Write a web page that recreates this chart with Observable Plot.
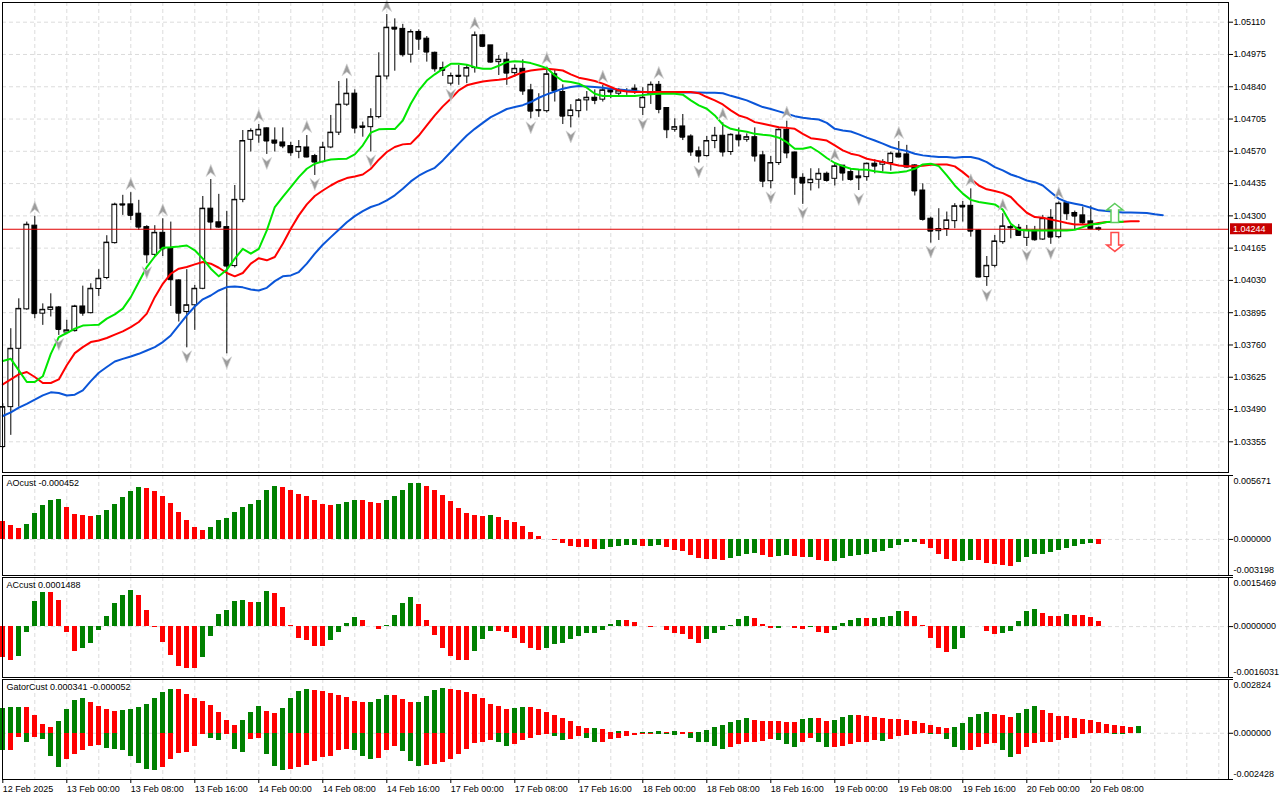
<!DOCTYPE html>
<html><head><meta charset="utf-8">
<script src="https://cdn.jsdelivr.net/npm/d3@7"></script>
<script src="https://cdn.jsdelivr.net/npm/@observablehq/plot@0.6"></script>
<style>
body{margin:0;background:#fff;}
#wrap{position:relative;width:1280px;height:800px;overflow:hidden;background:#fff;}
#wrap svg{position:absolute;left:0;overflow:visible;}
</style></head><body><div id="wrap"></div>
<script>
// ---------- DATA (H1 bars, index 0 = 12 Feb 2025 16:00) ----------
const opens = [1.03333,1.03500,1.03744,1.03909,1.04259,1.03891,1.03907,1.03917,1.03812,1.03818,
1.03921,1.03893,1.03994,1.04040,1.04186,1.04348,1.04348,1.04309,1.04253,1.04137,
1.04229,1.04162,1.04030,1.03898,1.03926,1.03995,1.04330,1.04273,1.04253,1.04090,
1.04367,1.04618,1.04636,1.04666,1.04615,1.04607,1.04592,1.04568,1.04586,1.04550,
1.04525,1.04586,1.04648,1.04765,1.04811,1.04674,1.04671,1.04713,1.04883,1.05087,
1.05082,1.04974,1.05069,1.05041,1.04982,1.04918,1.04853,1.04886,1.04883,1.04918,
1.05055,1.05013,1.04943,1.04953,1.04897,1.04915,1.04825,1.04742,1.04738,1.04892,
1.04818,1.04717,1.04738,1.04783,1.04794,1.04786,1.04825,1.04811,1.04822,1.04832,
1.04752,1.04808,1.04848,1.04751,1.04660,1.04674,1.04632,1.04570,1.04550,1.04613,
1.04635,1.04567,1.04636,1.04618,1.04629,1.04553,1.04445,1.04521,1.04660,1.04565,
1.04459,1.04437,1.04451,1.04476,1.04455,1.04510,1.04483,1.04465,1.04462,1.04518,
1.04514,1.04521,1.04560,1.04557,1.04511,1.04406,1.04288,1.04236,1.04245,1.04278,
1.04342,1.04342,1.04239,1.04044,1.04091,1.04190,1.04253,1.04250,1.04208,1.04239,
1.04201,1.04292,1.04211,1.04353,1.04312,1.04302,1.04277,1.04248];
const highs = [1.03514,1.03828,1.03953,1.04274,1.04298,1.03932,1.03974,1.03921,1.03863,1.03926,
1.04006,1.04016,1.04075,1.04217,1.04353,1.04386,1.04397,1.04365,1.04259,1.04259,
1.04288,1.04274,1.04033,1.04075,1.04009,1.04381,1.04452,1.04390,1.04319,1.04427,
1.04657,1.04664,1.04682,1.04668,1.04668,1.04668,1.04608,1.04615,1.04636,1.04557,
1.04608,1.04720,1.04862,1.04873,1.04827,1.04692,1.04748,1.04982,1.05142,1.05124,
1.05101,1.05078,1.05078,1.05050,1.04985,1.04943,1.04897,1.04929,1.04929,1.05069,
1.05057,1.05013,1.04971,1.04982,1.04932,1.04953,1.04850,1.04811,1.04922,1.04908,
1.04848,1.04765,1.04790,1.04820,1.04827,1.04846,1.04827,1.04832,1.04832,1.04848,
1.04836,1.04860,1.04862,1.04752,1.04706,1.04724,1.04639,1.04588,1.04632,1.04670,
1.04689,1.04643,1.04668,1.04643,1.04668,1.04570,1.04549,1.04664,1.04696,1.04567,
1.04476,1.04497,1.04497,1.04483,1.04518,1.04510,1.04497,1.04493,1.04521,1.04535,
1.04535,1.04567,1.04611,1.04595,1.04514,1.04434,1.04295,1.04330,1.04316,1.04351,
1.04360,1.04413,1.04242,1.04130,1.04218,1.04309,1.04260,1.04264,1.04260,1.04256,
1.04302,1.04326,1.04358,1.04353,1.04320,1.04337,1.04341,1.04253];
const lows = [1.03326,1.03382,1.03500,1.03905,1.03870,1.03842,1.03877,1.03800,1.03810,1.03814,
1.03880,1.03890,1.03963,1.04033,1.04182,1.04302,1.04281,1.04239,1.04100,1.04128,
1.04130,1.03921,1.03856,1.03748,1.03821,1.03991,1.04239,1.04248,1.03723,1.04082,
1.04355,1.04567,1.04604,1.04557,1.04567,1.04581,1.04549,1.04539,1.04543,1.04469,
1.04521,1.04581,1.04636,1.04758,1.04643,1.04629,1.04567,1.04706,1.04869,1.04905,
1.04964,1.04939,1.04992,1.04943,1.04901,1.04883,1.04843,1.04846,1.04853,1.04897,
1.05006,1.04939,1.04887,1.04846,1.04880,1.04804,1.04706,1.04712,1.04730,1.04776,
1.04682,1.04668,1.04710,1.04738,1.04765,1.04776,1.04790,1.04797,1.04804,1.04808,
1.04720,1.04766,1.04727,1.04623,1.04650,1.04615,1.04549,1.04521,1.04546,1.04581,
1.04546,1.04553,1.04588,1.04608,1.04525,1.04418,1.04413,1.04511,1.04539,1.04386,
1.04348,1.04404,1.04413,1.04441,1.04425,1.04445,1.04445,1.04406,1.04445,1.04476,
1.04483,1.04487,1.04543,1.04501,1.04383,1.04278,1.04186,1.04197,1.04214,1.04246,
1.04274,1.04211,1.04041,1.04005,1.04082,1.04181,1.04204,1.04215,1.04172,1.04194,
1.04197,1.04181,1.04204,1.04281,1.04239,1.04264,1.04242,1.04236];
const closes = [1.03500,1.03744,1.03911,1.04263,1.03891,1.03907,1.03917,1.03825,1.03821,1.03921,
1.03893,1.03995,1.04037,1.04188,1.04347,1.04345,1.04302,1.04253,1.04137,1.04229,
1.04162,1.04033,1.03893,1.03926,1.03995,1.04330,1.04274,1.04253,1.04090,1.04367,
1.04613,1.04655,1.04660,1.04613,1.04604,1.04592,1.04564,1.04588,1.04546,1.04525,
1.04586,1.04648,1.04765,1.04811,1.04667,1.04670,1.04713,1.04883,1.05087,1.05081,
1.04974,1.05069,1.05039,1.04985,1.04915,1.04908,1.04885,1.04883,1.04918,1.05055,
1.05009,1.04943,1.04953,1.04897,1.04915,1.04822,1.04738,1.04740,1.04892,1.04822,
1.04717,1.04741,1.04783,1.04794,1.04783,1.04825,1.04818,1.04822,1.04821,1.04825,
1.04794,1.04848,1.04745,1.04660,1.04671,1.04629,1.04567,1.04550,1.04613,1.04635,
1.04567,1.04639,1.04618,1.04629,1.04550,1.04445,1.04521,1.04660,1.04563,1.04459,
1.04437,1.04451,1.04476,1.04448,1.04507,1.04479,1.04452,1.04459,1.04518,1.04508,
1.04525,1.04560,1.04546,1.04504,1.04404,1.04285,1.04236,1.04245,1.04281,1.04340,
1.04337,1.04236,1.04044,1.04091,1.04193,1.04256,1.04250,1.04218,1.04239,1.04200,
1.04288,1.04211,1.04351,1.04309,1.04299,1.04271,1.04246,1.04244];

// Alligator (already shifted forward: jaw +8, teeth +5, lips +3 bars)
const jaw = [1.03463,1.03478,1.03498,1.03514,1.03531,1.03549,1.03562,1.03559,1.03549,1.03552,
1.03570,1.03609,1.03644,1.03668,1.03691,1.03702,1.03712,1.03723,1.03737,1.03751,
1.03772,1.03800,1.03842,1.03884,1.03921,1.03951,1.03967,1.03988,1.04002,1.04005,
1.04001,1.03992,1.03988,1.03999,1.04027,1.04047,1.04051,1.04065,1.04100,1.04142,
1.04179,1.04211,1.04242,1.04273,1.04299,1.04320,1.04337,1.04348,1.04365,1.04386,
1.04413,1.04444,1.04468,1.04486,1.04501,1.04532,1.04567,1.04602,1.04636,1.04664,
1.04689,1.04713,1.04730,1.04747,1.04755,1.04763,1.04776,1.04794,1.04808,1.04820,
1.04832,1.04839,1.04843,1.04841,1.04839,1.04836,1.04832,1.04829,1.04825,1.04822,
1.04818,1.04816,1.04816,1.04816,1.04816,1.04816,1.04816,1.04816,1.04815,1.04815,
1.04813,1.04802,1.04793,1.04783,1.04769,1.04755,1.04747,1.04737,1.04727,1.04717,
1.04710,1.04706,1.04703,1.04689,1.04664,1.04657,1.04653,1.04641,1.04627,1.04615,
1.04602,1.04588,1.04578,1.04571,1.04560,1.04553,1.04549,1.04546,1.04546,1.04543,
1.04546,1.04546,1.04539,1.04525,1.04504,1.04490,1.04473,1.04462,1.04448,1.04441,
1.04427,1.04399,1.04372,1.04358,1.04351,1.04344,1.04334,1.04323,1.04320,1.04317,
1.04314,1.04314,1.04313,1.04312,1.04307,1.04303];
const teeth = [1.03595,1.03616,1.03637,1.03647,1.03626,1.03601,1.03601,1.03616,1.03675,1.03726,
1.03751,1.03772,1.03779,1.03789,1.03803,1.03817,1.03835,1.03856,1.03891,1.03960,
1.04016,1.04058,1.04079,1.04086,1.04097,1.04107,1.04100,1.04083,1.04061,1.04047,
1.04061,1.04100,1.04123,1.04114,1.04128,1.04183,1.04246,1.04302,1.04348,1.04383,
1.04406,1.04427,1.04445,1.04458,1.04465,1.04473,1.04497,1.04535,1.04567,1.04588,
1.04599,1.04602,1.04636,1.04678,1.04720,1.04758,1.04790,1.04825,1.04846,1.04855,
1.04862,1.04866,1.04869,1.04873,1.04887,1.04901,1.04908,1.04912,1.04915,1.04912,
1.04908,1.04892,1.04878,1.04871,1.04864,1.04853,1.04839,1.04825,1.04820,1.04818,
1.04818,1.04818,1.04818,1.04818,1.04818,1.04818,1.04818,1.04813,1.04797,1.04783,
1.04766,1.04741,1.04720,1.04710,1.04692,1.04685,1.04678,1.04671,1.04668,1.04664,
1.04643,1.04625,1.04620,1.04615,1.04595,1.04574,1.04560,1.04553,1.04539,1.04532,
1.04525,1.04518,1.04511,1.04508,1.04508,1.04510,1.04514,1.04515,1.04515,1.04507,
1.04483,1.04455,1.04427,1.04411,1.04404,1.04395,1.04379,1.04344,1.04313,1.04295,
1.04292,1.04285,1.04278,1.04270,1.04264,1.04264,1.04264,1.04270,1.04274,1.04274,
1.04275,1.04277,1.04277];
const lips = [1.03693,1.03702,1.03654,1.03605,1.03605,1.03629,1.03723,1.03793,1.03810,1.03828,
1.03841,1.03843,1.03845,1.03870,1.03888,1.03912,1.03960,1.04023,1.04086,1.04130,
1.04167,1.04169,1.04172,1.04176,1.04156,1.04121,1.04079,1.04047,1.04075,1.04121,
1.04162,1.04142,1.04162,1.04239,1.04337,1.04379,1.04420,1.04462,1.04497,1.04518,
1.04528,1.04536,1.04538,1.04539,1.04557,1.04595,1.04648,1.04662,1.04663,1.04663,
1.04699,1.04769,1.04825,1.04866,1.04892,1.04915,1.04936,1.04936,1.04932,1.04922,
1.04915,1.04915,1.04928,1.04943,1.04947,1.04945,1.04939,1.04929,1.04918,1.04887,
1.04864,1.04860,1.04853,1.04836,1.04811,1.04801,1.04801,1.04801,1.04801,1.04801,
1.04805,1.04809,1.04811,1.04811,1.04811,1.04807,1.04783,1.04762,1.04748,1.04720,
1.04682,1.04664,1.04657,1.04652,1.04643,1.04639,1.04636,1.04627,1.04608,1.04581,
1.04581,1.04588,1.04567,1.04542,1.04521,1.04508,1.04497,1.04494,1.04493,1.04487,
1.04482,1.04479,1.04482,1.04487,1.04497,1.04515,1.04518,1.04508,1.04469,1.04427,
1.04393,1.04367,1.04358,1.04353,1.04348,1.04326,1.04267,1.04242,1.04239,1.04239,
1.04239,1.04239,1.04239,1.04239,1.04242,1.04253,1.04264,1.04267,1.04274,1.04275,
1.04275];

const fractalUp = [4,16,20,26,32,38,43,48,59,68,75,82,90,98,104,112,121,125,132];
const fractalDown = [7,18,23,28,33,39,46,56,66,71,80,87,96,100,107,116,123,128,131];
const signalUp = [{bar: 139, price: 1.04312}];
const signalDown = [{bar: 139, price: 1.04191}];
const lastPrice = 1.04244;

const ao = [0.00161,0.00122,0.00095,0.00131,0.00226,0.00297,0.00345,0.00354,0.00283,0.00217,
0.00208,0.00202,0.00208,0.00253,0.00309,0.00369,0.00422,0.00458,0.00455,0.00422,
0.00378,0.00315,0.00235,0.00172,0.00110,0.00083,0.00110,0.00172,0.00184,0.00235,
0.00283,0.00306,0.00342,0.00434,0.00467,0.00458,0.00434,0.00399,0.00378,0.00345,
0.00309,0.00300,0.00306,0.00327,0.00345,0.00343,0.00324,0.00323,0.00345,0.00381,
0.00437,0.00494,0.00495,0.00470,0.00434,0.00387,0.00333,0.00274,0.00226,0.00208,
0.00207,0.00209,0.00193,0.00172,0.00146,0.00113,0.00065,0.00030,-0.00002,-0.00012,
-0.00039,-0.00059,-0.00068,-0.00074,-0.00092,-0.00090,-0.00074,-0.00059,-0.00057,-0.00056,
-0.00065,-0.00062,-0.00057,-0.00074,-0.00101,-0.00110,-0.00140,-0.00172,-0.00181,-0.00182,
-0.00190,-0.00172,-0.00155,-0.00137,-0.00128,-0.00146,-0.00158,-0.00155,-0.00146,-0.00155,
-0.00164,-0.00163,-0.00184,-0.00199,-0.00193,-0.00172,-0.00155,-0.00146,-0.00137,-0.00119,
-0.00110,-0.00083,-0.00057,-0.00030,-0.00028,-0.00048,-0.00083,-0.00137,-0.00181,-0.00199,
-0.00198,-0.00190,-0.00191,-0.00217,-0.00226,-0.00235,-0.00236,-0.00208,-0.00161,-0.00137,
-0.00136,-0.00119,-0.00101,-0.00083,-0.00062,-0.00048,-0.00039,-0.000452];
const ac = [-0.00096,-0.00107,-0.00093,-0.00020,0.00078,0.00109,0.00108,0.00083,-0.00017,-0.00077,
-0.00068,-0.00052,-0.00011,0.00033,0.00074,0.00099,0.00115,0.00099,0.00052,-0.00002,
-0.00049,-0.00090,-0.00126,-0.00131,-0.00132,-0.00096,-0.00031,0.00039,0.00052,0.00080,
0.00081,0.00075,0.00077,0.00112,0.00103,0.00061,0.00003,-0.00036,-0.00045,-0.00062,
-0.00063,-0.00045,-0.00017,0.00011,0.00030,0.00020,-0.00001,-0.00008,0.00003,0.00036,
0.00074,0.00093,0.00071,0.00020,-0.00027,-0.00068,-0.00093,-0.00106,-0.00107,-0.00077,
-0.00042,-0.00014,-0.00015,-0.00020,-0.00036,-0.00052,-0.00068,-0.00074,-0.00068,-0.00055,
-0.00052,-0.00042,-0.00030,-0.00023,-0.00022,-0.00011,0.00006,0.00020,0.00019,0.00013,
-0.00001,-0.00002,-0.00001,-0.00011,-0.00023,-0.00026,-0.00042,-0.00052,-0.00042,-0.00023,
-0.00011,0.00002,0.00023,0.00033,0.00026,0.00007,-0.00007,-0.00006,0.00001,-0.00007,
-0.00008,-0.00004,-0.00017,-0.00023,-0.00011,0.00011,0.00020,0.00026,0.00025,0.00026,
0.00028,0.00033,0.00049,0.00048,0.00033,0.00003,-0.00036,-0.00068,-0.00083,-0.00071,
-0.00039,0.00001,-0.00001,-0.00014,-0.00026,-0.00023,-0.00014,0.00017,0.00049,0.00055,
0.00042,0.00033,0.00032,0.00039,0.00036,0.00035,0.00030,0.0001488];
const gatorUp = [0.00132,0.00133,0.00137,0.00136,0.00095,0.00047,0.00032,0.00060,0.00126,0.00174,
0.00184,0.00163,0.00142,0.00126,0.00116,0.00121,0.00126,0.00137,0.00153,0.00184,
0.00216,0.00232,0.00231,0.00205,0.00184,0.00169,0.00148,0.00111,0.00068,0.00042,
0.00068,0.00111,0.00142,0.00116,0.00105,0.00132,0.00184,0.00220,0.00232,0.00227,
0.00221,0.00211,0.00200,0.00190,0.00169,0.00163,0.00164,0.00179,0.00200,0.00199,
0.00179,0.00160,0.00163,0.00195,0.00227,0.00237,0.00232,0.00223,0.00216,0.00202,
0.00181,0.00153,0.00142,0.00126,0.00132,0.00137,0.00136,0.00126,0.00111,0.00095,
0.00079,0.00060,0.00037,0.00026,0.00027,0.00021,0.00005,0.00011,0.00010,0.00001,
0.00005,0.00006,0.00007,0.00002,0.00011,0.00005,0.00004,0.00005,0.00016,0.00032,
0.00042,0.00058,0.00068,0.00079,0.00068,0.00063,0.00062,0.00061,0.00058,0.00057,
0.00074,0.00079,0.00078,0.00063,0.00068,0.00084,0.00095,0.00094,0.00090,0.00084,
0.00079,0.00074,0.00073,0.00068,0.00063,0.00053,0.00042,0.00032,0.00026,0.00032,
0.00053,0.00084,0.00100,0.00111,0.00100,0.00095,0.00084,0.00105,0.00126,0.00142,
0.00121,0.00105,0.00090,0.00089,0.00079,0.00074,0.00068,0.00058,0.00047,0.00042,
0.00037,0.00032,0.000341];
const gatorDown = [-0.00093,-0.00088,-0.00021,-0.00046,-0.00020,-0.00032,-0.00121,-0.00179,-0.00137,-0.00111,
-0.00093,-0.00068,-0.00063,-0.00079,-0.00084,-0.00093,-0.00121,-0.00158,-0.00188,-0.00193,
-0.00179,-0.00137,-0.00105,-0.00100,-0.00067,-0.00009,-0.00026,-0.00040,-0.00009,-0.00083,
-0.00100,-0.00035,-0.00030,-0.00114,-0.00172,-0.00193,-0.00188,-0.00179,-0.00167,-0.00146,
-0.00126,-0.00121,-0.00093,-0.00083,-0.00093,-0.00121,-0.00140,-0.00130,-0.00093,-0.00072,
-0.00098,-0.00149,-0.00172,-0.00171,-0.00163,-0.00151,-0.00137,-0.00111,-0.00083,-0.00056,
-0.00046,-0.00040,-0.00051,-0.00067,-0.00061,-0.00040,-0.00025,-0.00014,-0.00004,-0.00019,
-0.00040,-0.00035,-0.00019,-0.00030,-0.00051,-0.00050,-0.00035,-0.00025,-0.00019,-0.00014,
-0.00009,-0.00004,-0.00005,-0.00009,-0.00010,-0.00004,-0.00030,-0.00046,-0.00051,-0.00067,
-0.00083,-0.00077,-0.00061,-0.00051,-0.00046,-0.00045,-0.00035,-0.00040,-0.00061,-0.00077,
-0.00051,-0.00025,-0.00046,-0.00077,-0.00076,-0.00067,-0.00061,-0.00051,-0.00046,-0.00040,
-0.00041,-0.00035,-0.00019,-0.00014,-0.00004,-0.00003,-0.00009,-0.00004,-0.00035,-0.00077,
-0.00093,-0.00088,-0.00077,-0.00061,-0.00056,-0.00088,-0.00125,-0.00114,-0.00077,-0.00056,
-0.00051,-0.00046,-0.00040,-0.00030,-0.00025,-0.00009,-0.00003,-0.00002,-0.00003,-0.00004,
-0.000052];

const priceTicks = [1.05110,1.04975,1.04840,1.04705,1.04570,1.04435,1.04300,1.04165,1.04030,1.03895,1.03760,1.03625,1.03490,1.03355];
const timeLabels = ["12 Feb 2025","13 Feb 00:00","13 Feb 08:00","13 Feb 16:00","14 Feb 00:00","14 Feb 08:00","14 Feb 16:00","17 Feb 00:00","17 Feb 08:00","17 Feb 16:00","18 Feb 00:00","18 Feb 08:00","18 Feb 16:00","19 Feb 00:00","19 Feb 08:00","19 Feb 16:00","20 Feb 00:00","20 Feb 08:00"];
const aoScale = [-0.003198, 0.005671];
const acScale = [-0.0016031, 0.0015469];
const gatorScale = [-0.002428, 0.002824];

// ---------- BUILD ----------
const FONT = "'Liberation Sans', Arial, sans-serif";
const FS = 9;
const GREEN = "#008000", RED = "#ff0000", GRID = "#dcdcdc";
const xDomain = [-0.0375, 153.2125];
const gridBars = d3.range(4, 153, 4);
const bars = opens.map((o, i) => ({k: i, open: o, high: highs[i], low: lows[i], close: closes[i]}));
const series = arr => arr.map((v, k) => ({k, v}));
const styleObj = {fontFamily: FONT, fontSize: FS + "px", background: "transparent", overflow: "visible"};

const arrowHead = {draw(ctx, size) { const r = Math.sqrt(size / Math.PI);
  ctx.moveTo(0, -r); ctx.lineTo(0.8 * r, r); ctx.lineTo(0, 0.35 * r); ctx.lineTo(-0.8 * r, r); ctx.closePath(); }};
const blockArrow = {draw(ctx, size) { const r = Math.sqrt(size / Math.PI);
  const w = 0.85 * r, hw = 0.4 * r, hy = -r + 0.8 * w;
  ctx.moveTo(0, -r); ctx.lineTo(w, hy); ctx.lineTo(hw, hy); ctx.lineTo(hw, r); ctx.lineTo(-hw, r);
  ctx.lineTo(-hw, hy); ctx.lineTo(-w, hy); ctx.closePath(); }};

const wrap = document.getElementById("wrap");
function place(el, top) { el.style.top = top + "px"; el.style.left = "0px"; wrap.appendChild(el); }

// right-hand value labels (top/bottom labels sit inside the panel as in MT5)
function sideLabels(hi, lo, fmt) {
  return [
    Plot.axisY([hi, 0, lo], {anchor: "right", tickSize: 4, tickFormat: () => "", label: null, fontSize: FS}),
    Plot.text([0], {y: d => d, frameAnchor: "right", dx: 5, textAnchor: "start", text: d => fmt(d), fontSize: FS}),
    Plot.text([hi], {y: d => d, frameAnchor: "right", dx: 5, dy: 6, textAnchor: "start", text: d => fmt(d), fontSize: FS}),
    Plot.text([lo], {y: d => d, frameAnchor: "right", dx: 5, dy: -5, textAnchor: "start", text: d => fmt(d), fontSize: FS})
  ];
}

const main = Plot.plot({
  width: 1280, height: 474, marginTop: 2, marginBottom: 2, marginLeft: 2, marginRight: 52,
  x: {domain: xDomain, axis: null, label: null},
  y: {domain: [1.032266, 1.051924], axis: null, label: null},
  style: styleObj,
  marks: [
    Plot.gridX(gridBars, {stroke: GRID, strokeOpacity: 1, strokeDasharray: "4,3"}),
    Plot.gridY(priceTicks, {stroke: GRID, strokeOpacity: 1, strokeDasharray: "4,3"}),
    Plot.ruleX(bars, {x: "k", y1: "low", y2: "high", stroke: "#000"}),
    Plot.rect(bars, {x1: d => d.k - 0.3, x2: d => d.k + 0.3, y1: "open", y2: "close",
      fill: d => d.close >= d.open ? "#ffffff" : "#000000", stroke: "#000", strokeWidth: 1}),
    Plot.ruleY(bars, {y: "close", x1: d => d.k - 0.3, x2: d => d.k + 0.3, stroke: "#000"}),
    Plot.ruleY([lastPrice], {stroke: "#e00000", strokeWidth: 1}),
    Plot.line(series(jaw), {x: "k", y: "v", stroke: "#0a55d8", strokeWidth: 2}),
    Plot.line(series(teeth), {x: "k", y: "v", stroke: "#ff0000", strokeWidth: 2}),
    Plot.line(series(lips), {x: "k", y: "v", stroke: "#00e600", strokeWidth: 2}),
    Plot.dot(fractalUp.map(k => bars[k]), {x: "k", y: "high", dy: -9, r: 6, symbol: arrowHead, fill: "#9c9c9c", stroke: "#d4d4d4", strokeWidth: 0.7}),
    Plot.dot(fractalDown.map(k => bars[k]), {x: "k", y: "low", dy: 9, r: 6, rotate: 180, symbol: arrowHead, fill: "#9c9c9c", stroke: "#d4d4d4", strokeWidth: 0.7}),
    Plot.dot(signalUp, {x: "bar", y: "price", r: 9.5, symbol: blockArrow, fill: "#ffffff", stroke: "#5ccc5c", strokeWidth: 1.5}),
    Plot.dot(signalDown, {x: "bar", y: "price", r: 9.5, rotate: 180, symbol: blockArrow, fill: "#ffffff", stroke: "#ff4a4a", strokeWidth: 1.5}),
    Plot.axisY(priceTicks, {anchor: "right", tickSize: 4, tickPadding: 1, label: null, tickFormat: d => d.toFixed(5), fontSize: FS}),
    Plot.frame({stroke: "#000"})
  ]
});
place(main, 0);
{
  const ys = main.scale("y").apply(lastPrice);
  const xr = main.scale("x").range[1];
  const s = d3.select(main);
  s.append("rect").attr("x", xr + 2).attr("y", ys - 5.5).attr("width", 42).attr("height", 11).attr("fill", "#c80000");
  s.append("text").attr("x", xr + 5).attr("y", ys).attr("dy", "0.35em").attr("fill", "#fff")
    .attr("text-anchor", "start").attr("font-family", FONT).attr("font-size", FS).text(lastPrice.toFixed(5));
}

function histPanel({values, domain, label, fmt, colorFn}) {
  const data = values.map((v, k) => ({k, v, c: colorFn(v, k, values)}));
  const [lo, hi] = domain;
  return Plot.plot({
    width: 1280, height: 102, marginTop: 1, marginBottom: 1, marginLeft: 2, marginRight: 52,
    x: {domain: xDomain, axis: null, label: null},
    y: {domain: [lo, hi], axis: null, label: null},
    style: styleObj,
    marks: [
      Plot.gridX(gridBars, {stroke: GRID, strokeOpacity: 1, strokeDasharray: "4,3"}),
      Plot.ruleY([0], {stroke: GRID, strokeDasharray: "4,3"}),
      Plot.rect(data, {x1: d => d.k - 0.3, x2: d => d.k + 0.3, y1: 0, y2: "v", fill: d => d.c, shapeRendering: "crispEdges"}),
      Plot.text([label], {frameAnchor: "top-left", dx: 4, dy: 4, textAnchor: "start", lineAnchor: "top", fontSize: FS}),
      ...sideLabels(hi, lo, fmt),
      Plot.frame({stroke: "#000"})
    ]
  });
}
const upDown = (first) => (v, k, arr) => k === 0 ? first : (v > arr[k - 1] ? GREEN : RED);

const aoPlot = histPanel({values: ao, domain: aoScale, label: "AOcust " + ao[ao.length - 1].toFixed(6),
  fmt: d => d.toFixed(6), colorFn: upDown(RED)});
place(aoPlot, 474);

const acPlot = histPanel({values: ac, domain: acScale, label: "ACcust " + ac[ac.length - 1].toFixed(7),
  fmt: d => d.toFixed(7), colorFn: upDown(RED)});
place(acPlot, 576);

// Gator panel
{
  const upData = gatorUp.map((v, k) => ({k, v, c: k === 0 ? GREEN : (v > gatorUp[k - 1] ? GREEN : RED)}));
  const dnData = gatorDown.map((v, k) => ({k, v, c: k === 0 ? GREEN : (Math.abs(v) > Math.abs(gatorDown[k - 1]) ? GREEN : RED)}));
  const [lo, hi] = gatorScale;
  const fmt = d => d.toFixed(6);
  const labelTicks = d3.range(0, 137, 8);
  const gp = Plot.plot({
    width: 1280, height: 122, marginTop: 1, marginBottom: 21, marginLeft: 2, marginRight: 52,
    x: {domain: xDomain, axis: null, label: null},
    y: {domain: [lo, hi], axis: null, label: null},
    style: styleObj,
    marks: [
      Plot.gridX(gridBars, {stroke: GRID, strokeOpacity: 1, strokeDasharray: "4,3"}),
      Plot.ruleY([0], {stroke: GRID, strokeDasharray: "4,3"}),
      Plot.rect(upData, {x1: d => d.k - 0.33, x2: d => d.k + 0.33, y1: 0, y2: "v", fill: d => d.c, shapeRendering: "crispEdges"}),
      Plot.rect(dnData, {x1: d => d.k - 0.33, x2: d => d.k + 0.33, y1: 0, y2: "v", fill: d => d.c, shapeRendering: "crispEdges"}),
      Plot.text(["GatorCust " + fmt(gatorUp[gatorUp.length - 1]) + " " + fmt(gatorDown[gatorDown.length - 1])],
        {frameAnchor: "top-left", dx: 4, dy: 4, textAnchor: "start", lineAnchor: "top", fontSize: FS}),
      ...sideLabels(hi, lo, fmt),
      Plot.axisX(labelTicks, {anchor: "bottom", tickSize: 4, tickPadding: 2, textAnchor: "start", dx: 0, label: null,
        tickFormat: d => timeLabels[d / 8], fontSize: FS}),
      Plot.frame({stroke: "#000"})
    ]
  });
  place(gp, 678);
}
</script></body></html>
